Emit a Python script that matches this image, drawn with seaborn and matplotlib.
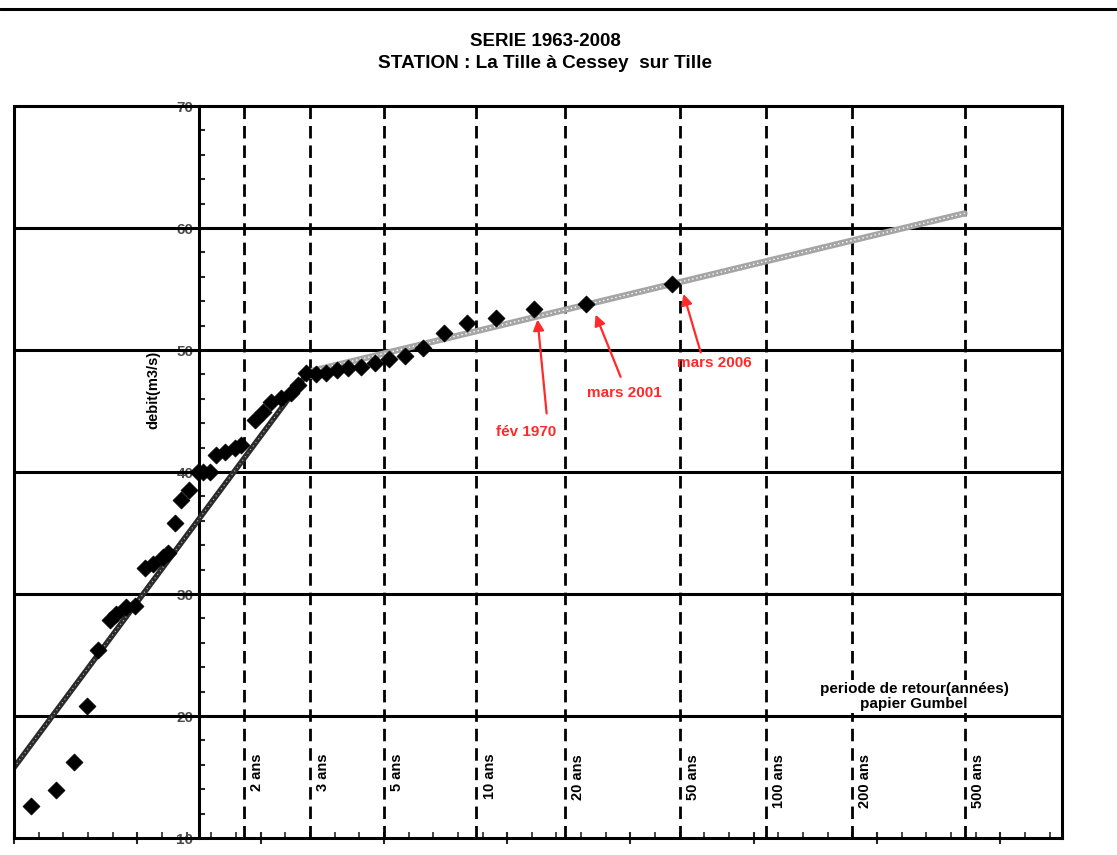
import numpy as np
import pandas as pd
import matplotlib
matplotlib.use("Agg")
import matplotlib.pyplot as plt
from matplotlib.lines import Line2D
import seaborn as sns

# ---- data ----
# Gumbel reduced variate of each observed annual maximum
u_obs = [-1.365, -1.162, -1.016, -0.910, -0.820, -0.723, -0.674, -0.593, -0.520,
         -0.439, -0.374, -0.292, -0.252, -0.195, -0.146, -0.081, -0.008, 0.032,
         0.089, 0.138, 0.211, 0.292, 0.341, 0.455, 0.520, 0.585, 0.666, 0.747,
         0.804, 0.869, 0.950, 1.032, 1.121, 1.210, 1.316, 1.430, 1.543, 1.673,
         1.820, 1.990, 2.177, 2.413, 2.714, 3.137, 3.835]
# observed discharge (m3/s)
q_obs = [12.6, 13.9, 16.2, 20.8, 25.4, 27.9, 28.4, 28.9, 29.0,
         32.1, 32.5, 33.0, 33.4, 35.8, 37.7, 38.5, 40.0, 40.0,
         40.0, 41.4, 41.6, 42.0, 42.2, 44.3, 44.9, 45.7, 46.1, 46.5,
         47.1, 48.1, 48.0, 48.1, 48.4, 48.5, 48.6, 48.9, 49.3, 49.5,
         50.2, 51.4, 52.2, 52.6, 53.4, 53.8, 55.4]

# fitted lines (two segments)
fit_low_u = [-1.52, 0.88]
fit_low_q = [15.5, 48.1]
fit_high_u = [0.88, 6.21]
fit_high_q = [48.2, 61.2]

# return periods (years) drawn as dashed lines
periods = [2, 3, 5, 10, 20, 50, 100, 200, 500]
period_labels = ["2 ans", "3 ans", "5 ans", "10 ans", "20 ans", "50 ans",
                 "100 ans", "200 ans", "500 ans"]

y_ticks = [10, 20, 30, 40, 50, 60, 70]

# annotated events: label, text position (u, q), arrow tail / head (u, q)
events = ["fév 1970", "mars 2001", "mars 2006"]
event_text_u = [2.656, 3.452, 4.180]
event_text_q = [43.3, 46.5, 48.9]
event_tail_u = [2.82, 3.42, 4.07]
event_tail_q = [44.8, 47.8, 49.8]
event_head_u = [2.746, 3.217, 3.93]
event_head_q = [52.5, 52.9, 54.6]

# ---- style ----
sns.set_style("white")
plt.rcParams["font.family"] = ["Liberation Sans", "DejaVu Sans"]
plt.rcParams["text.color"] = "black"

fig = plt.figure(figsize=(11.17, 8.55), dpi=100)
ax = fig.add_axes([14 / 1117, 1 - 838 / 855, (1062 - 14) / 1117, (838 - 106) / 855])

XMIN, XMAX = -1.5, 7.0
ax.set_xlim(XMIN, XMAX)
ax.set_ylim(10, 70)

# horizontal grid lines
for yv in y_ticks[1:-1]:
    ax.axhline(yv, color="black", lw=2.2, zorder=1)

# dashed return-period lines
u_periods = [-np.log(-np.log(1 - 1 / T)) for T in periods]
for up, lab in zip(u_periods, period_labels):
    ax.axvline(up, color="black", lw=2.0, ls=(0, (4.5, 2.5)), zorder=1)
    ax.text(up + 0.05, 16.9, lab, rotation=90, ha="left", va="top",
            fontsize=10.5, fontweight="bold", color="black", zorder=5)

# fitted lines
df_low = pd.DataFrame({"u": fit_low_u, "q": fit_low_q})
df_high = pd.DataFrame({"u": fit_high_u, "q": fit_high_q})
sns.lineplot(data=df_high, x="u", y="q", ax=ax, color="#a5a5a5", lw=4.5,
             sort=False, zorder=3)
sns.lineplot(data=df_low, x="u", y="q", ax=ax, color="#2a2a2a", lw=4.0,
             sort=False, zorder=3)
ax.plot(fit_high_u, fit_high_q, color="white", lw=1.0, ls=(0, (1, 2)), zorder=3.5)
ax.plot(fit_low_u, fit_low_q, color="#bbbbbb", lw=0.8, ls=(0, (1, 3)), zorder=3.5)

# observations
df_obs = pd.DataFrame({"u": u_obs, "q": q_obs})
sns.scatterplot(data=df_obs, x="u", y="q", ax=ax, marker="D", s=75,
                color="black", edgecolor="black", linewidth=0.5, zorder=4)

# spines / axes
ax.spines["left"].set_position(("data", 0))
for sp in ax.spines.values():
    sp.set_linewidth(2.2)
    sp.set_color("black")
ax.axvline(XMIN, color="black", lw=2.2, zorder=6, clip_on=False)

ax.set_yticks(y_ticks)
ax.set_yticklabels([str(v) for v in y_ticks], fontsize=11, color="#4a4a4a",
                   fontweight="bold")
ax.set_yticks(np.arange(10, 71, 2), minor=True)
ax.tick_params(axis="y", which="major", length=0, pad=4)
ax.tick_params(axis="y", which="minor", direction="in", length=4, width=1.5,
               left=True)

ax.set_xticks(np.arange(XMIN, XMAX + 0.01, 1.0))
ax.set_xticks(np.arange(XMIN, XMAX + 0.01, 0.2), minor=True)
ax.set_xticklabels([])
ax.tick_params(axis="x", which="major", direction="inout", length=9, width=1.5,
               bottom=True)
ax.tick_params(axis="x", which="minor", direction="in", length=4, width=1.2,
               bottom=True)
ax.set_xlabel("")
ax.set_ylabel("")

# y label placed inside the frame
ax.text(-0.37, 46.7, "debit(m3/s)", rotation=90, ha="center", va="center",
        fontsize=10.5, fontweight="bold")

# x axis caption (white box hides the dashed lines behind it)
ax.text(5.80, 21.6, "periode de retour(années)\npapier Gumbel", ha="center",
        va="center", fontsize=11, fontweight="bold", linespacing=1.15,
        bbox=dict(facecolor="white", edgecolor="none", pad=1.0), zorder=5)

# annotations
red = "#ff2a2a"
for lab, tu, tq, su, sq, hu, hq in zip(events, event_text_u, event_text_q,
                                       event_tail_u, event_tail_q,
                                       event_head_u, event_head_q):
    ax.text(tu, tq, lab, color=red, fontsize=11, fontweight="bold",
            ha="center", va="center", zorder=7)
    ax.annotate("", xy=(hu, hq), xytext=(su, sq),
                arrowprops=dict(arrowstyle="-|>", color=red, lw=1.6,
                                mutation_scale=16, shrinkA=0, shrinkB=0),
                zorder=7)

# titles
fig.text(545 / 1117, 1 - 41 / 855, "SERIE 1963-2008", ha="center", va="center",
         fontsize=13.5, fontweight="bold")
fig.text(545 / 1117, 1 - 63 / 855, "STATION : La Tille à Cessey  sur Tille",
         ha="center", va="center", fontsize=13.7, fontweight="bold")

# page rule at top
fig.add_artist(Line2D([0, 1], [1 - 9 / 855, 1 - 9 / 855], color="black", lw=2.2,
                      transform=fig.transFigure))

fig.savefig("out.png", dpi=100)
